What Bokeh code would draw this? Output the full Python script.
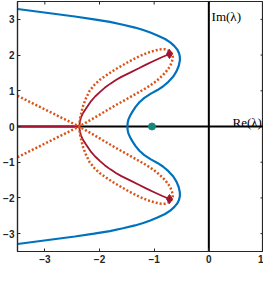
import math
from bokeh.plotting import figure
from bokeh.models import FixedTicker, Label
from bokeh.embed import file_html
from bokeh.resources import INLINE

# ---- data ----
x_ticks = [-3, -2, -1, 0, 1]
y_ticks = [-3, -2, -1, 0, 1, 2, 3]
x_lim = (-3.5, 1.0)
y_lim = (-3.5, 3.5)

# blue curve, upper half (mirrored for lower half)
blue_x = [-1.49, -1.485, -1.47, -1.44, -1.40, -1.34, -1.27, -1.18, -1.06, -0.94, -0.84, -0.74, -0.65,
          -0.59, -0.55, -0.53, -0.53, -0.545, -0.575, -0.63, -0.70, -0.80, -0.94, -1.07, -1.20,
          -1.35, -1.57, -1.81, -2.10, -2.45, -2.80, -3.15, -3.50]
blue_y = [0.00, 0.10, 0.20, 0.30, 0.41, 0.55, 0.68, 0.80, 0.92, 1.02, 1.12, 1.25, 1.40,
          1.55, 1.70, 1.85, 1.95, 2.05, 2.15, 2.25, 2.35, 2.45, 2.55, 2.63, 2.70,
          2.77, 2.85, 2.93, 3.00, 3.08, 3.15, 3.22, 3.29]

# red path: real-axis segment then upper branch (mirrored)
red_axis_x = [-3.5, -2.37]
red_axis_y = [0.0, 0.0]
red_x = [-2.37, -2.36, -2.34, -2.30, -2.25, -2.20, -2.15, -2.08, -1.99, -1.90, -1.80, -1.70,
         -1.60, -1.45, -1.28, -1.14, -1.00, -0.86, -0.72]
red_y = [0.00, 0.12, 0.25, 0.38, 0.50, 0.61, 0.72, 0.84, 0.97, 1.09, 1.20, 1.30,
         1.39, 1.50, 1.63, 1.74, 1.84, 1.94, 2.03]

# orange dotted: left ray and upper loop (mirrored)
orange_ray_x = [-3.5, -2.37]
orange_ray_y = [0.86, 0.0]
orange_loop_x = [-2.37, -2.36, -2.33, -2.30, -2.25, -2.18, -2.09, -2.00, -1.88, -1.75, -1.63, -1.46,
                 -1.28, -1.13, -0.98, -0.88, -0.80, -0.73, -0.68, -0.66, -0.66, -0.68, -0.70, -0.74,
                 -0.80, -0.88, -0.97, -1.08, -1.20, -1.35, -1.50, -1.70, -1.90, -2.10, -2.37]
orange_loop_y = [0.00, 0.20, 0.40, 0.58, 0.78, 1.00, 1.17, 1.30, 1.43, 1.56, 1.67, 1.82,
                 1.96, 2.06, 2.13, 2.16, 2.16, 2.12, 2.05, 1.97, 1.89, 1.80, 1.72, 1.62,
                 1.50, 1.38, 1.26, 1.14, 1.03, 0.90, 0.77, 0.60, 0.42, 0.24, 0.00]

dot_x = [-1.04]
dot_y = [0.0]

BLUE = "#0072BD"
RED = "#A2142F"
ORANGE = "#D95319"
TEAL = "#17877C"
DARK = "#262626"

p = figure(width=263, height=265, x_range=x_lim, y_range=y_lim,
           output_backend="svg", toolbar_location=None,
           min_border_top=1, min_border_right=0, min_border_left=0, min_border_bottom=0)
p.grid.visible = False
p.outline_line_color = DARK
p.outline_line_width = 1.2
p.background_fill_color = "white"
p.border_fill_color = "white"

for ax, ticks in ((p.xaxis[0], x_ticks), (p.yaxis[0], y_ticks)):
    ax.ticker = FixedTicker(ticks=ticks)
    ax.major_tick_in = 3
    ax.major_tick_out = 0
    ax.minor_tick_line_color = None
    ax.axis_line_color = DARK
    ax.axis_line_width = 1.2
    ax.major_tick_line_color = DARK
    ax.major_tick_line_width = 1
    ax.major_label_text_font = "Liberation Sans"
    ax.major_label_text_font_style = "bold"
    ax.major_label_text_font_size = "10px"
    ax.major_label_text_color = DARK
    ax.major_label_standoff = 3

# inward ticks on top and right edges of the box
p.scatter([x_lim[1]] * len(y_ticks), y_ticks, marker="dash", size=6, line_color=DARK, line_width=1)
p.scatter(x_ticks, [y_lim[1]] * len(x_ticks), marker="dash", size=6, angle=math.pi / 2,
          line_color=DARK, line_width=1)

# axes of the complex plane
p.line([x_lim[0], x_lim[1]], [0, 0], line_color="black", line_width=2)
p.line([0, 0], [y_lim[0], y_lim[1]], line_color="black", line_width=2)

# blue curve (full)
bx = blue_x[::-1] + blue_x[1:]
by = [-v for v in blue_y[::-1]] + blue_y[1:]
p.line(bx, by, line_color=BLUE, line_width=2.2)

# red paths
p.line(red_axis_x, red_axis_y, line_color=RED, line_width=2)
p.line(red_x, red_y, line_color=RED, line_width=1.8)
p.line(red_x, [-v for v in red_y], line_color=RED, line_width=1.8)

# orange dotted
for sgn in (1, -1):
    p.line(orange_ray_x, [sgn * v for v in orange_ray_y], line_color=ORANGE,
           line_width=2.5, line_dash="2 2")
    p.line(orange_loop_x, [sgn * v for v in orange_loop_y], line_color=ORANGE,
           line_width=2.5, line_dash="2 2")

# red end markers
p.scatter([red_x[-1], red_x[-1]], [red_y[-1], -red_y[-1]], marker="diamond",
          size=9, color=RED)

# teal point
p.scatter(dot_x, dot_y, size=7, color=TEAL)

# labels
p.add_layout(Label(x=0.05, y=3.08, text="Im(λ)", text_font="Liberation Serif",
                   text_font_size="13px", text_color="black", text_baseline="alphabetic"))
p.add_layout(Label(x=0.97, y=0.1, text="Re(λ)", text_font="Liberation Serif",
                   text_font_size="13px", text_color="black", text_align="right",
                   text_baseline="alphabetic"))

open("out.html", "w").write(file_html(p, INLINE))
